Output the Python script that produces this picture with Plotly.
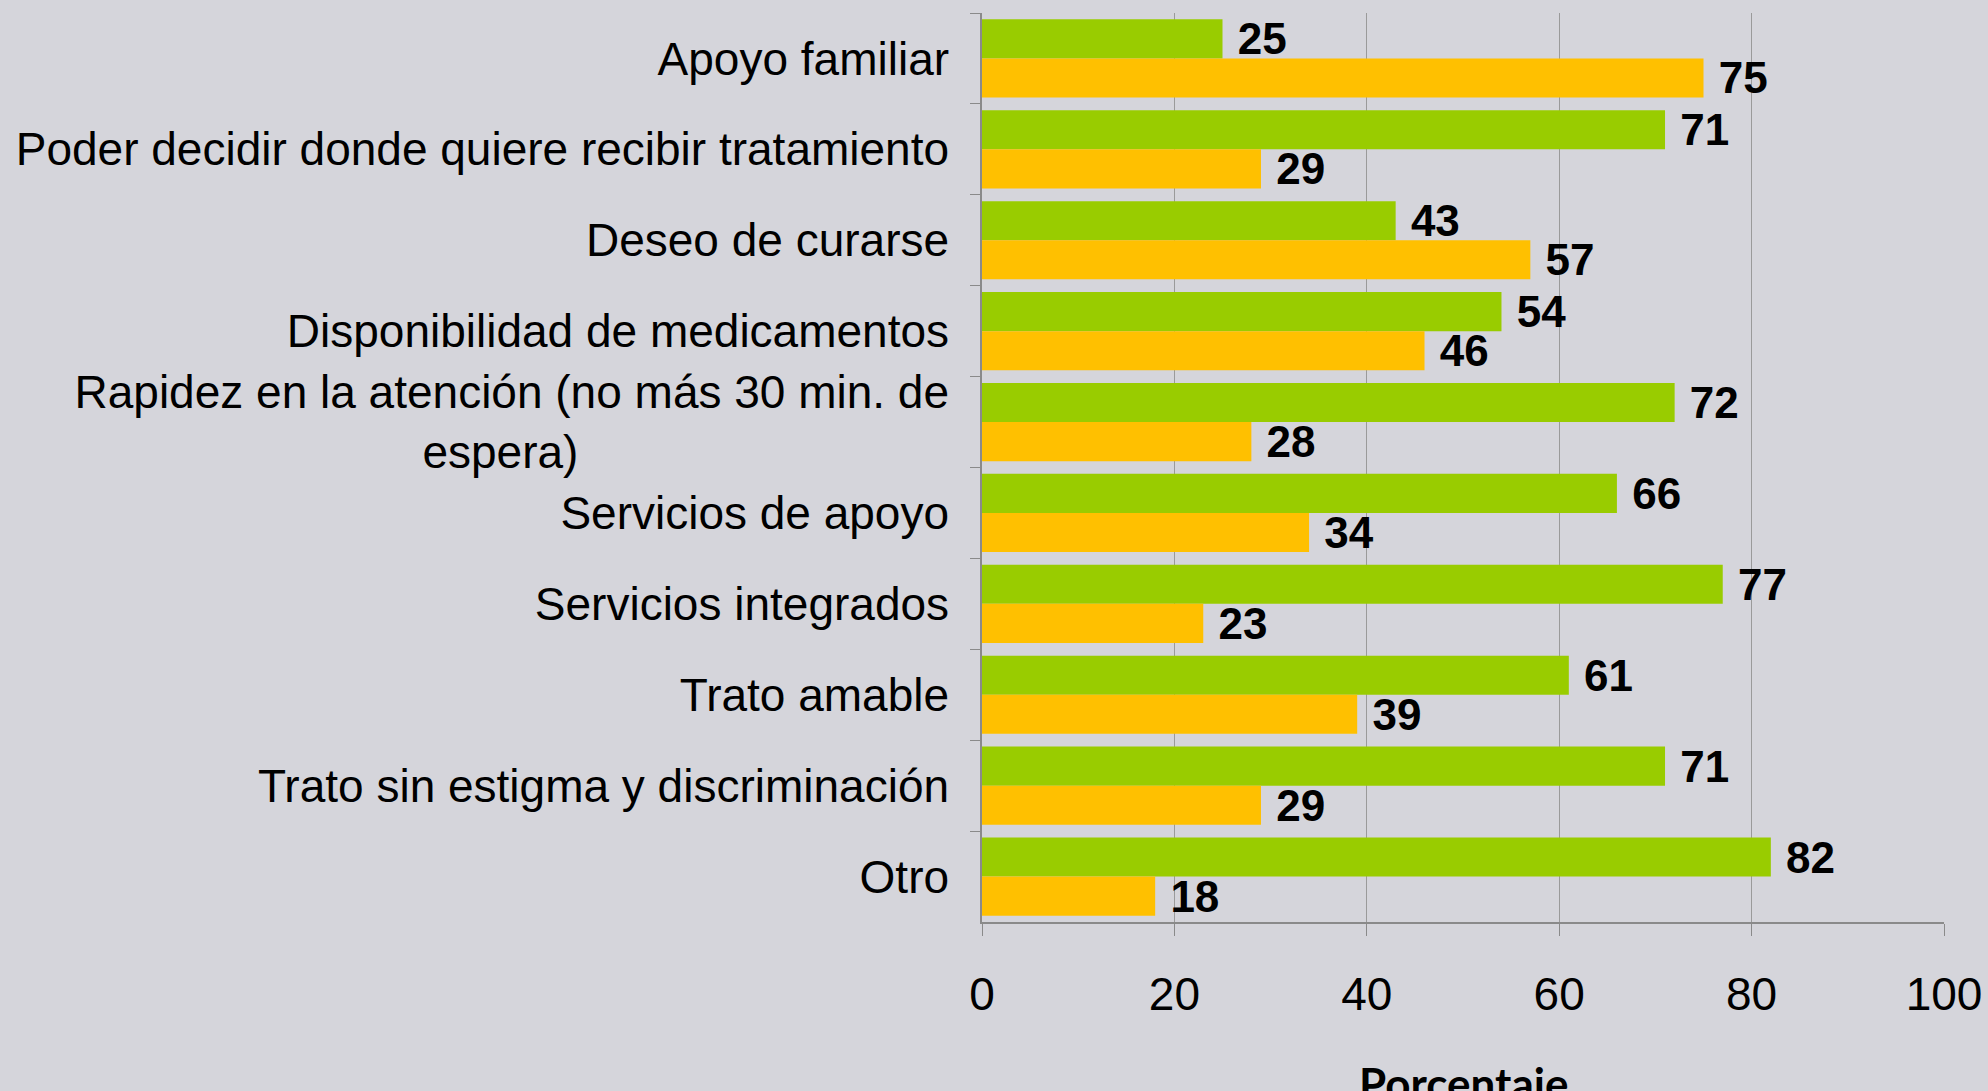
import plotly.graph_objects as go

categories = [
    "Apoyo familiar",
    "Poder decidir donde quiere recibir tratamiento",
    "Deseo de curarse",
    "Disponibilidad de medicamentos",
    "Rapidez en la atención (no más 30 min. de<br>espera)" + "\u00a0" * 29,
    "Servicios de apoyo",
    "Servicios integrados",
    "Trato amable",
    "Trato sin estigma y discriminación",
    "Otro",
]
green_values = [25, 71, 43, 54, 72, 66, 77, 61, 71, 82]
orange_values = [75, 29, 57, 46, 28, 34, 23, 39, 29, 18]
x_ticks = [0, 20, 40, 60, 80, 100]
x_title = "Porcentaje"

label_font = dict(family="Liberation Sans, Arial, sans-serif", size=44, color="black")

fig = go.Figure()
fig.add_trace(go.Bar(
    y=categories, x=green_values, orientation="h", name="Verde",
    marker=dict(color="#99CC00", line=dict(width=0)),
    text=green_values, texttemplate="\u00a0<b>%{x}</b>", textposition="outside",
    textfont=label_font, cliponaxis=False, constraintext="none",
))
fig.add_trace(go.Bar(
    y=categories, x=orange_values, orientation="h", name="Naranja",
    marker=dict(color="#FFC000", line=dict(width=0)),
    text=orange_values, texttemplate="\u00a0<b>%{x}</b>", textposition="outside",
    textfont=label_font, cliponaxis=False, constraintext="none",
))

fig.update_layout(
    width=1988, height=1091,
    barmode="group", bargap=0.14, bargroupgap=0,
    showlegend=False,
    paper_bgcolor="#d5d5db", plot_bgcolor="#d5d5db",
    margin=dict(l=982, r=44, t=13, b=169, autoexpand=False),
    font=dict(family="Liberation Sans, Arial, sans-serif", size=46, color="black"),
)
fig.add_annotation(
    text="<b>" + x_title + "</b>", xref="paper", yref="paper", x=0.5, y=0,
    xanchor="center", yanchor="top", yshift=-133, showarrow=False,
    font=dict(family="Lato, sans-serif", size=44, color="black"),
)
fig.update_xaxes(
    range=[0, 100], tickvals=x_ticks, ticktext=[str(v) for v in x_ticks],
    showgrid=True, gridcolor="#9a9a9a", gridwidth=1,
    showline=True, linecolor="#8a8a8a", linewidth=1.5,
    ticks="outside", ticklen=12, tickcolor="#8a8a8a",
    tickfont=dict(size=46), ticklabelstandoff=19, zeroline=False,
)
fig.update_yaxes(
    type="category", autorange="reversed",
    tickson="boundaries", ticks="outside", ticklen=10, tickcolor="#8a8a8a",
    showline=True, linecolor="#8a8a8a", linewidth=1.5, showgrid=False,
    tickfont=dict(size=46), ticklabelstandoff=22,
)

fig.write_html(
    "out.html",
    config={"displayModeBar": False},
    post_script="document.body.style.margin='0';document.body.style.background='#d5d5db';",
)
